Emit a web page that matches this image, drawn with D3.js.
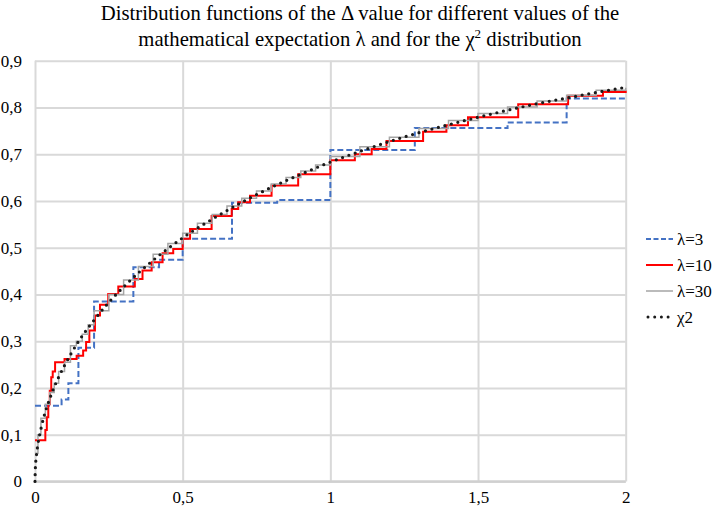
<!DOCTYPE html>
<html><head><meta charset="utf-8">
<script src="https://cdn.jsdelivr.net/npm/d3@7"></script>
<style>body{margin:0;background:#fff}svg{display:block}svg text{font-family:'Liberation Serif','Times New Roman',serif}</style>
</head><body><svg id="c" width="714" height="511"></svg>
<script>
// ---- data ----
const xTickValues = [0, 0.5, 1, 1.5, 2];
const xTickLabels = ["0", "0,5", "1", "1,5", "2"];
const yTickValues = [0, 0.1, 0.2, 0.3, 0.4, 0.5, 0.6, 0.7, 0.8, 0.9];
const yTickLabels = ["0", "0,1", "0,2", "0,3", "0,4", "0,5", "0,6", "0,7", "0,8", "0,9"];
const seriesNames = ["λ=3", "λ=10", "λ=30", "χ2"];

const lambda3X = [0, 0.09, 0.113, 0.147, 0.2, 0.333, 0.42, 0.5, 0.667, 0.82, 1.0, 1.286, 1.6, 1.8, 2.0];
const lambda3Y = [0.162, 0.175, 0.21, 0.286, 0.385, 0.458, 0.474, 0.519, 0.596, 0.602, 0.709, 0.756, 0.768, 0.819, 0.819];

const lambda10X = [0, 0.035, 0.04, 0.045, 0.05, 0.055, 0.06, 0.068, 0.1, 0.141, 0.163, 0.173, 0.184, 0.203, 0.22, 0.248, 0.282, 0.338, 0.364, 0.395, 0.432, 0.468, 0.5, 0.525, 0.598, 0.666, 0.688, 0.728, 0.801, 0.891, 1.0, 1.083, 1.14, 1.19, 1.314, 1.393, 1.466, 1.636, 1.805, 1.923, 2.0];
const lambda10Y = [0.088, 0.11, 0.137, 0.165, 0.194, 0.223, 0.235, 0.255, 0.262, 0.269, 0.28, 0.298, 0.323, 0.355, 0.378, 0.401, 0.417, 0.433, 0.451, 0.469, 0.488, 0.497, 0.519, 0.54, 0.568, 0.583, 0.597, 0.611, 0.633, 0.657, 0.687, 0.700, 0.711, 0.728, 0.748, 0.762, 0.779, 0.807, 0.825, 0.833, 0.836];

const lambda30X = [0, 0.01, 0.02, 0.035, 0.05, 0.065, 0.08, 0.1, 0.12, 0.14, 0.16, 0.18, 0.2, 0.25, 0.3, 0.35, 0.4, 0.45, 0.5, 0.55, 0.6, 0.65, 0.7, 0.75, 0.8, 0.85, 0.9, 0.95, 1.0, 1.1, 1.2, 1.3, 1.4, 1.5, 1.6, 1.7, 1.8, 1.9, 2.0];
const lambda30Y = [0.06, 0.10, 0.135, 0.165, 0.19, 0.21, 0.235, 0.255, 0.29, 0.30, 0.315, 0.335, 0.365, 0.40, 0.431, 0.46, 0.486, 0.509, 0.531, 0.552, 0.571, 0.589, 0.606, 0.621, 0.636, 0.65, 0.664, 0.677, 0.695, 0.716, 0.736, 0.755, 0.772, 0.787, 0.801, 0.814, 0.826, 0.837, 0.842];

const chiX = [0, 0.001, 0.005, 0.01, 0.02, 0.03, 0.04, 0.05, 0.06, 0.08, 0.1, 0.12, 0.15, 0.2, 0.25, 0.3, 0.35, 0.4, 0.45, 0.5, 0.6, 0.7, 0.8, 0.9, 1.0, 1.1, 1.2, 1.3, 1.4, 1.5, 1.6, 1.7, 1.8, 1.9, 2.0];
const chiY = [0, 0.025, 0.056, 0.080, 0.112, 0.138, 0.159, 0.177, 0.194, 0.223, 0.248, 0.271, 0.302, 0.345, 0.383, 0.416, 0.446, 0.473, 0.498, 0.521, 0.561, 0.597, 0.629, 0.657, 0.683, 0.706, 0.727, 0.746, 0.763, 0.779, 0.794, 0.808, 0.820, 0.832, 0.843];

// ---- chart ----
const svg = d3.select("#c");
const L = 35, R = 625.7, T = 60.7, B = 481.4;
const x = d3.scaleLinear().domain([0, 2]).range([L, R]);
const y = d3.scaleLinear().domain([0, 0.9]).range([B, T]);
const serif = "'Liberation Serif','Times New Roman',serif";

// grid + axes
const gx = svg.append("g").attr("transform", `translate(0,${B})`)
  .call(d3.axisBottom(x).tickValues(xTickValues).tickFormat((d, i) => xTickLabels[i]).tickSize(-(B - T)).tickPadding(8));
gx.attr("font-family", null);
gx.select(".domain").remove();
gx.selectAll("line").attr("stroke", "#d9d9d9").attr("stroke-width", 2);
gx.selectAll("text").style("font-family", serif).style("font-size", "17px").attr("fill", "#000").attr("dy", "0.71em").attr("y", 10);

const gy = svg.append("g").attr("transform", `translate(${L},0)`)
  .call(d3.axisLeft(y).tickValues(yTickValues).tickFormat((d, i) => yTickLabels[i]).tickSize(-(R - L)).tickPadding(13));
gy.attr("font-family", null);
gy.select(".domain").remove();
gy.selectAll("line").attr("stroke", "#d9d9d9").attr("stroke-width", 2);
gy.selectAll("text").style("font-family", serif).style("font-size", "17px").attr("fill", "#000");

// bottom axis line
svg.append("line").attr("x1", L).attr("x2", R).attr("y1", y(0)).attr("y2", y(0))
  .attr("stroke", "#d0d0d0").attr("stroke-width", 2.5);

const stepLine = d3.line().x(d => x(d[0])).y(d => y(d[1])).curve(d3.curveStepAfter);
const smoothLine = d3.line().x(d => x(d[0])).y(d => y(d[1])).curve(d3.curveMonotoneX);
const zip = (a, b) => a.map((v, i) => [v, b[i]]);

const plot = svg.append("g");
plot.append("path").attr("d", stepLine(zip(lambda3X, lambda3Y)))
  .attr("fill", "none").attr("stroke", "#4472C4").attr("stroke-width", 2).attr("stroke-dasharray", "6,3");
plot.append("path").attr("d", stepLine(zip(lambda10X, lambda10Y)))
  .attr("fill", "none").attr("stroke", "#FF0000").attr("stroke-width", 2);
plot.append("path").attr("d", stepLine(zip(lambda30X, lambda30Y)))
  .attr("fill", "none").attr("stroke", "#A5A5A5").attr("stroke-width", 1.5);
plot.append("path").attr("d", smoothLine(zip(chiX, chiY)))
  .attr("fill", "none").attr("stroke", "#1a1a1a").attr("stroke-width", 3.2)
  .attr("stroke-linecap", "round").attr("stroke-dasharray", "0,6.7");

// title
const title = svg.append("text").style("font-family", serif).style("font-size", "20.7px").attr("fill", "#000").attr("text-anchor", "middle");
title.append("tspan").attr("x", 360).attr("y", 19.5).text("Distribution functions of the Δ value for different values of the");
const t2 = svg.append("text").style("font-family", serif).style("font-size", "20.7px").attr("fill", "#000").attr("text-anchor", "middle")
  .attr("x", 360).attr("y", 46);
t2.append("tspan").text("mathematical expectation λ and for the χ");
t2.append("tspan").attr("dy", -8).style("font-size", "13px").text("2");
t2.append("tspan").attr("dy", 8).text(" distribution");

// legend
const legY = [239, 265, 291, 317];
const styles = [
  {c: "#4472C4", w: 2, dash: "5,2.5", cap: "butt"},
  {c: "#FF0000", w: 2, dash: null, cap: "butt"},
  {c: "#A5A5A5", w: 1.5, dash: null, cap: "butt"},
  {c: "#1a1a1a", w: 3, dash: "0,6.7", cap: "round"}
];
seriesNames.forEach((name, i) => {
  const g = svg.append("g");
  const s = styles[i];
  g.append("line").attr("x1", i === 3 ? 648 : 646).attr("x2", 673).attr("y1", legY[i]).attr("y2", legY[i])
    .attr("stroke", s.c).attr("stroke-width", s.w).attr("stroke-dasharray", s.dash).attr("stroke-linecap", s.cap);
  g.append("text").attr("x", 677).attr("y", legY[i]).attr("dy", "0.35em")
    .style("font-family", serif).style("font-size", "17px").attr("fill", "#000").text(name);
});
</script></body></html>
